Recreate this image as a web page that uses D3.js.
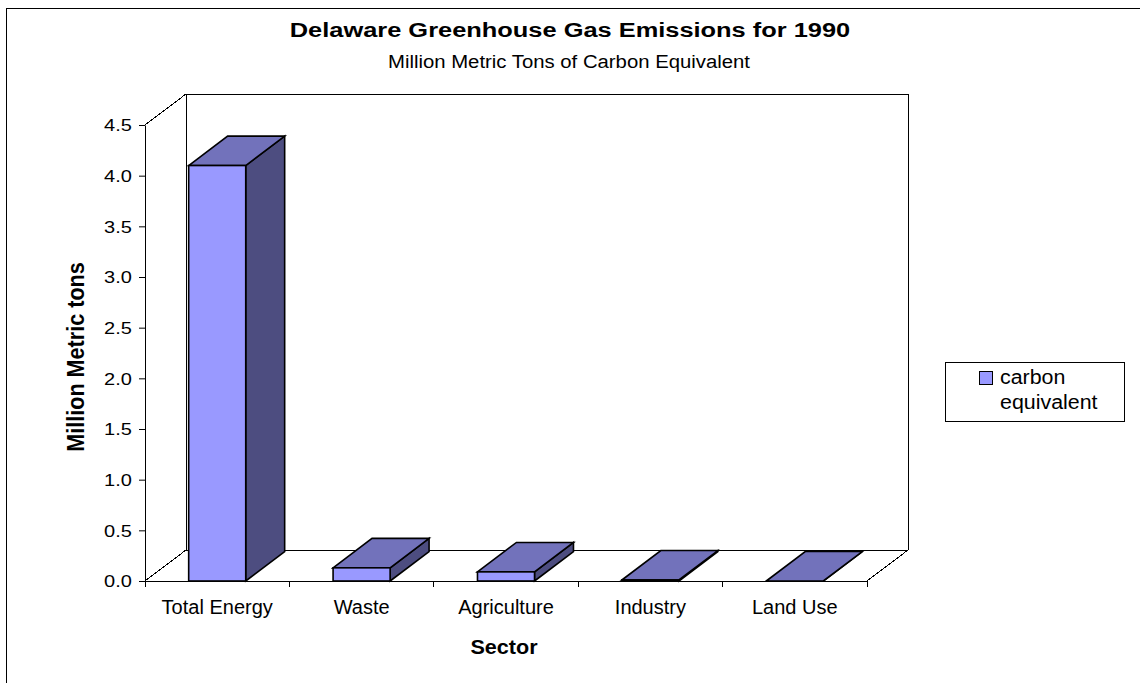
<!DOCTYPE html>
<html>
<head>
<meta charset="utf-8">
<script src="https://cdn.jsdelivr.net/npm/d3@7"></script>
<style>
  body { margin: 0; background: #fff; }
  svg text { font-family: Arial, "Liberation Sans", sans-serif; fill: #000; }
</style>
</head>
<body>
<div id="chart"></div>
<script>
// chart values
const sectors = ["Total Energy", "Waste", "Agriculture", "Industry", "Land Use"];
const emissions = [4.1, 0.13, 0.09, 0.01, 0];
const yTicks = [0, 0.5, 1.0, 1.5, 2.0, 2.5, 3.0, 3.5, 4.0, 4.5];
const legendLines = ["carbon", "equivalent"];
const titleText = "Delaware Greenhouse Gas Emissions for 1990";
const subtitleText = "Million Metric Tons of Carbon Equivalent";

const W = 1140, H = 683;

// 3d box depth offset
const depth = { dx: 41, dy: -31 };
const barDepth = 0.95;

const colors = { front: "#9999ff", top: "#7272bb", side: "#4d4d80" };

let svg = d3.select("#chart").append("svg")
    .attr("width", W)
    .attr("height", H);

// outer chart border
svg.append("rect")
    .attr("x", 6.5).attr("y", 8.5)
    .attr("width", W).attr("height", H)
    .attr("fill", "#fff")
    .attr("stroke", "#000");

let x = d3.scaleBand()
    .domain(sectors)
    .range([145, 867])
    .padding(0);

let y = d3.scaleLinear()
    .domain([0, 4.5])
    .range([581, 125]);

let x0 = x.range()[0], x1 = x.range()[1];
let yTop = y(4.5), yBot = y(0);

// walls and floor
let walls = svg.append("g")
    .attr("fill", "none")
    .attr("stroke", "#000")
    .attr("stroke-width", 1);

let wallLines = [
    [[x0, yTop], [x0 + depth.dx, yTop + depth.dy]],
    [[x0 + depth.dx, yTop + depth.dy], [x1 + depth.dx, yTop + depth.dy]],
    [[x1 + depth.dx, yTop + depth.dy], [x1 + depth.dx, yBot + depth.dy]],
    [[x0 + depth.dx, yTop + depth.dy], [x0 + depth.dx, yBot + depth.dy]],
    [[x0 + depth.dx, yBot + depth.dy], [x1 + depth.dx, yBot + depth.dy]],
    [[x0, yBot], [x0 + depth.dx, yBot + depth.dy]],
    [[x1, yBot], [x1 + depth.dx, yBot + depth.dy]]
];
walls.selectAll("path")
    .data(wallLines)
    .enter().append("path")
    .attr("d", d => d3.line()(d))
    .attr("shape-rendering", "crispEdges");

// bars
let bw = x.bandwidth() * 0.395;
let bdx = depth.dx * barDepth, bdy = depth.dy * barDepth;

let bars = svg.append("g")
    .attr("stroke", "#000")
    .attr("stroke-width", 1.6)
    .attr("stroke-linejoin", "miter");

sectors.forEach(function(s, i) {
    let v = emissions[i];
    let left = x(s) + (x.bandwidth() - bw) / 2;
    let right = left + bw;
    let top = y(v), bot = y(0);
    let g = bars.append("g");
    // side
    g.append("path")
        .attr("d", d3.line()([[right, bot], [right + bdx, bot + bdy], [right + bdx, top + bdy], [right, top]]) + "Z")
        .attr("fill", colors.side);
    // top
    g.append("path")
        .attr("d", d3.line()([[left, top], [left + bdx, top + bdy], [right + bdx, top + bdy], [right, top]]) + "Z")
        .attr("fill", colors.top);
    // front
    if (bot - top > 0.5) {
        g.append("rect")
            .attr("x", left).attr("y", top)
            .attr("width", bw).attr("height", bot - top)
            .attr("fill", colors.front);
    }
});

// y axis
let yAxis = d3.axisLeft(y)
    .tickValues(yTicks)
    .tickSize(6)
    .tickSizeOuter(0)
    .tickPadding(4)
    .tickFormat(d3.format(".1f"));

let yg = svg.append("g")
    .attr("transform", `translate(${x0},0)`)
    .call(yAxis);
yg.selectAll("text")
    .attr("transform", "scale(1.25,1)")
    .attr("x", -10.5)
    .attr("dy", "0.36em")
    .style("font-size", "16px");
yg.selectAll("line, path").attr("stroke", "#000");

// x axis: labels at band centres, ticks on band edges
let xAxis = d3.axisBottom(x)
    .tickSize(0)
    .tickSizeOuter(0);

let xg = svg.append("g")
    .attr("transform", `translate(0,${yBot})`)
    .call(xAxis);
xg.select(".domain").attr("stroke", "#000");
xg.selectAll(".tick text")
    .attr("x", 0)
    .attr("y", 33)
    .attr("dy", 0)
    .style("font-size", "20px");

let edges = d3.range(sectors.length + 1).map(i => x0 + i * x.step());
xg.selectAll(".edge")
    .data(edges)
    .enter().append("line")
    .attr("class", "edge")
    .attr("x1", d => d).attr("x2", d => d)
    .attr("y1", 0).attr("y2", 6)
    .attr("stroke", "#000")
    .attr("shape-rendering", "crispEdges");

// titles
function stretchedText(px, py, str, size, weight, sx) {
    return svg.append("text")
        .attr("transform", `translate(${px},${py}) scale(${sx},1)`)
        .attr("text-anchor", "middle")
        .style("font-size", size + "px")
        .style("font-weight", weight)
        .text(str);
}

stretchedText(570, 37, titleText, 20, "bold", 1.27);
stretchedText(569, 68, subtitleText, 19, "normal", 1.07);
stretchedText(504, 654, "Sector", 20, "bold", 1.08);

svg.append("text")
    .attr("transform", "translate(84,357) rotate(-90) scale(1.08,1.2)")
    .attr("text-anchor", "middle")
    .style("font-size", "20px")
    .style("font-weight", "bold")
    .text("Million Metric tons");

// legend
let lg = svg.append("g");
lg.append("rect")
    .attr("x", 945.5).attr("y", 362.5)
    .attr("width", 179).attr("height", 59)
    .attr("fill", "#fff")
    .attr("stroke", "#000");
lg.append("rect")
    .attr("x", 979.5).attr("y", 371.5)
    .attr("width", 13).attr("height", 13)
    .attr("fill", colors.front)
    .attr("stroke", "#000");
legendLines.forEach(function(t, i) {
    lg.append("text")
        .attr("transform", `translate(1000,${384 + i * 25}) scale(1.07,1)`)
        .style("font-size", "20px")
        .text(t);
});
</script>
</body>
</html>
